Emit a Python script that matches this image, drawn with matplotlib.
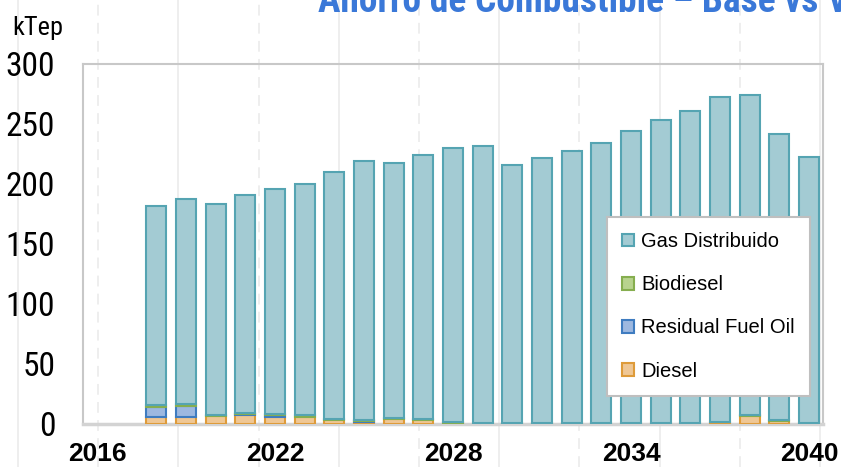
import matplotlib
matplotlib.use("Agg")
import matplotlib.pyplot as plt
from matplotlib import font_manager
from matplotlib.lines import Line2D
from matplotlib.patches import Patch
import numpy as np

years = list(range(2018, 2041))
gas = [165.7, 171.3, 176.0, 181.5, 187.3, 192.8, 205.6, 216.3, 212.7, 220.6, 228.6, 230.7,
       215.5, 220.9, 227.1, 233.5, 243.1, 252.7, 260.1, 271.0, 266.2, 238.6, 221.8]
biodiesel = [1.5, 1.5, 1.2, 1.0, 1.2, 1.2, 0.8, 0.6, 0.6, 0.8, 0.4, 0.2,
             0.2, 0.2, 0.2, 0.2, 0.2, 0.2, 0.2, 0.3, 0.8, 0.6, 0.2]
rfo = [8.5, 9.0, 0, 0.8, 1.5, 0, 0, 0.5, 0, 0, 0, 0,
       0, 0, 0, 0, 0, 0, 0, 0, 0, 0, 0]
diesel = [6.0, 6.0, 6.4, 7.3, 5.6, 6.0, 3.6, 2.0, 4.2, 3.0, 1.0, 0.5,
          0.3, 0.3, 0.5, 0.3, 0.7, 0.7, 0.5, 1.5, 7.0, 2.8, 0.5]
xticks = [2016, 2022, 2028, 2034, 2040]
yticks = [0, 50, 100, 150, 200, 250, 300]
title = "Ahorro de Combustible \u2013 Base vs VE"

# pick a narrow font if one is installed
names = {f.name for f in font_manager.fontManager.ttflist}
narrow = "DejaVu Sans"
for cand in ["Liberation Sans Narrow", "Roboto Condensed", "DejaVu Sans Condensed", "Open Sans Condensed"]:
    if cand in names:
        narrow = cand
        break
sans = "Liberation Sans"

fig = plt.figure(figsize=(8.41, 4.67), dpi=100)

# faint page grid behind the chart
for i, xp in enumerate(np.arange(18, 841, 80.2)):
    ls = "-" if i % 2 == 0 else (0, (6, 4))
    fig.add_artist(Line2D([xp / 841, xp / 841], [0, 1], transform=fig.transFigure,
                          color="#EDEDED", lw=1.3, linestyle=ls, zorder=0))

ax = fig.add_axes([83 / 841, 1 - 424 / 467, 740 / 841, 360 / 467])
ax.set_facecolor("none")

series = [
    ("Diesel", diesel, "#EFC795", "#DE9B3A"),
    ("Residual Fuel Oil", rfo, "#9DB8E0", "#3F7CC0"),
    ("Biodiesel", biodiesel, "#B8D38E", "#86AE4F"),
    ("Gas Distribuido", gas, "#A3CBD3", "#55A4B2"),
]
bottom = np.zeros(len(years))
for name, vals, fc, ec in series:
    vals = np.array(vals, dtype=float)
    bars = ax.bar(years, vals, width=0.67, bottom=bottom, color=fc, edgecolor=ec,
                  linewidth=1.5, zorder=3)
    for b, v in zip(bars, vals):
        if v <= 0:
            b.set_visible(False)
    bottom += vals

ax.set_xlim(2015.53, 2040.47)
ax.set_ylim(0, 300)
ax.set_xticks(xticks)
ax.set_xticklabels([str(x) for x in xticks], fontfamily=sans, fontweight="bold", fontsize=19)
ax.set_yticks(yticks)
ax.set_yticklabels([str(y) for y in yticks], fontfamily=narrow, fontsize=24)
ax.tick_params(axis="both", length=0)
ax.tick_params(axis="y", pad=20)
ax.tick_params(axis="x", pad=13)

for s in ["top", "left", "right"]:
    ax.spines[s].set_color("#C8C8C8")
    ax.spines[s].set_linewidth(1.5)
ax.spines["bottom"].set_color("#D3D3D3")
ax.spines["bottom"].set_linewidth(2.5)

fig.text(12 / 841, 1 - 35 / 467, "kTep", fontfamily=narrow, fontsize=19,
         ha="left", va="baseline", color="black")
fig.text(318 / 841, 1 - 12 / 467, title, fontfamily=narrow, fontweight="bold",
         fontsize=27, color="#3A78D8", ha="left", va="baseline")

handles = [Patch(facecolor=fc, edgecolor=ec, linewidth=1.5, label=name)
           for name, vals, fc, ec in series[::-1]]
leg = fig.legend(handles=handles, loc="upper left", bbox_to_anchor=(607 / 841, 1 - 217 / 467),
                 bbox_transform=fig.transFigure, borderaxespad=0, frameon=True, fancybox=False,
                 framealpha=1, prop={"family": sans, "size": 14.5}, labelspacing=1.2,
                 handlelength=0.6, handleheight=0.6, handletextpad=0.35, borderpad=0.75)
leg.get_frame().set_edgecolor("#BFBFBF")
leg.get_frame().set_linewidth(1.5)
leg.set_zorder(5)

fig.savefig("out.png", dpi=100)
